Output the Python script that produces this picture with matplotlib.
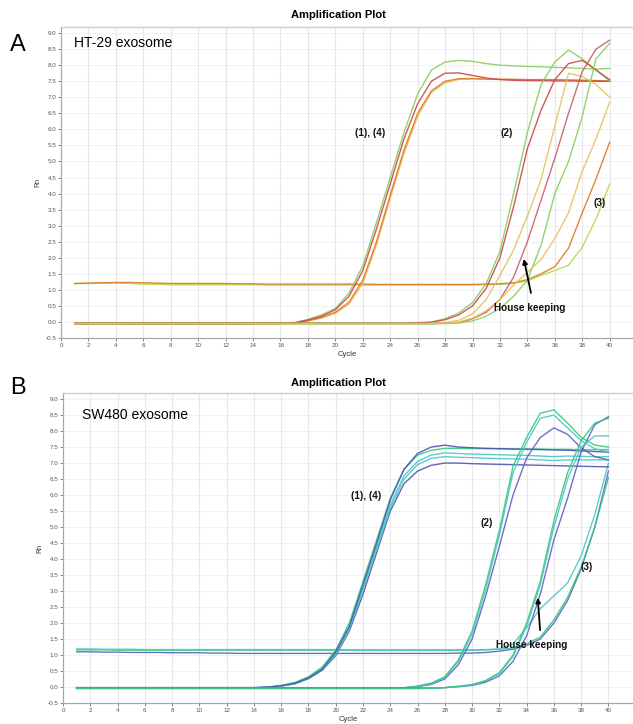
import matplotlib
matplotlib.use("Agg")
import matplotlib.pyplot as plt

plt.rcParams['font.family'] = ['Liberation Sans', 'DejaVu Sans']

cycles = list(range(1, 41))

# ---------------- panel A: HT-29 exosome (Rn per cycle 1..40) ----------------
a_early_green = [-0.05, -0.05, -0.04, -0.04, -0.05, -0.05, -0.05, -0.05, -0.05, -0.05,
                 -0.05, -0.05, -0.05, -0.04, -0.04, -0.03, -0.02, 0.08, 0.22, 0.42,
                 0.90, 1.75, 3.10, 4.50, 5.90, 7.10, 7.85, 8.10, 8.15, 8.12,
                 8.05, 8.00, 7.98, 7.96, 7.95, 7.93, 7.92, 7.90, 7.88, 7.90]
a_early_red = [-0.06, -0.06, -0.05, -0.05, -0.06, -0.06, -0.06, -0.06, -0.06, -0.06,
               -0.06, -0.06, -0.06, -0.05, -0.05, -0.04, -0.03, 0.06, 0.18, 0.38,
               0.80, 1.60, 2.90, 4.30, 5.70, 6.80, 7.50, 7.75, 7.76, 7.68,
               7.60, 7.55, 7.53, 7.52, 7.52, 7.51, 7.51, 7.50, 7.50, 7.50]
a_early_orange = [-0.04, -0.04, -0.04, -0.04, -0.04, -0.04, -0.04, -0.04, -0.04, -0.04,
                  -0.04, -0.04, -0.04, -0.04, -0.04, -0.04, -0.04, 0.04, 0.14, 0.30,
                  0.62, 1.30, 2.50, 3.95, 5.35, 6.50, 7.20, 7.50, 7.58, 7.58,
                  7.57, 7.56, 7.56, 7.55, 7.55, 7.55, 7.54, 7.53, 7.52, 7.50]
a_early_yellow = [-0.07, -0.07, -0.07, -0.07, -0.07, -0.07, -0.07, -0.07, -0.07, -0.07,
                  -0.07, -0.07, -0.07, -0.06, -0.06, -0.06, -0.05, 0.03, 0.12, 0.27,
                  0.56, 1.20, 2.40, 3.85, 5.25, 6.40, 7.15, 7.45, 7.56, 7.57,
                  7.56, 7.56, 7.55, 7.55, 7.55, 7.55, 7.54, 7.53, 7.52, 7.50]
a_p2_green = [-0.03, -0.03, -0.03, -0.03, -0.03, -0.03, -0.03, -0.03, -0.03, -0.03,
              -0.03, -0.03, -0.03, -0.03, -0.03, -0.03, -0.03, -0.03, -0.03, -0.03,
              -0.03, -0.03, -0.03, -0.03, -0.03, -0.02, 0.00, 0.10, 0.28, 0.60,
              1.20, 2.20, 4.00, 5.90, 7.40, 8.10, 8.47, 8.20, 7.85, 7.50]
a_p2_red = [-0.04, -0.04, -0.04, -0.04, -0.04, -0.04, -0.04, -0.04, -0.04, -0.04,
            -0.04, -0.04, -0.04, -0.04, -0.04, -0.04, -0.04, -0.04, -0.04, -0.04,
            -0.04, -0.04, -0.04, -0.04, -0.04, -0.03, -0.01, 0.07, 0.22, 0.50,
            1.05, 2.00, 3.60, 5.40, 6.60, 7.55, 8.05, 8.15, 7.85, 7.55]
a_hk_yellow = [-0.05, -0.05, -0.05, -0.05, -0.05, -0.05, -0.05, -0.05, -0.05, -0.05,
               -0.05, -0.05, -0.05, -0.05, -0.05, -0.05, -0.05, -0.05, -0.05, -0.05,
               -0.05, -0.05, -0.05, -0.05, -0.05, -0.05, -0.04, -0.02, 0.05, 0.25,
               0.70, 1.45, 2.25, 3.30, 4.45, 6.10, 7.75, 7.65, 7.40, 7.00]
a_hk_red = [-0.05, -0.05, -0.05, -0.05, -0.05, -0.05, -0.05, -0.05, -0.05, -0.05,
            -0.05, -0.05, -0.05, -0.05, -0.05, -0.05, -0.05, -0.05, -0.05, -0.05,
            -0.05, -0.05, -0.05, -0.05, -0.05, -0.05, -0.05, -0.04, -0.02, 0.10,
            0.30, 0.70, 1.40, 2.50, 3.80, 5.10, 6.50, 7.80, 8.50, 8.78]
a_hk_green = [-0.06, -0.06, -0.06, -0.06, -0.06, -0.06, -0.06, -0.06, -0.06, -0.06,
              -0.06, -0.06, -0.06, -0.06, -0.06, -0.06, -0.06, -0.06, -0.06, -0.06,
              -0.06, -0.06, -0.06, -0.06, -0.06, -0.06, -0.06, -0.05, -0.03, 0.03,
              0.18, 0.42, 0.80, 1.30, 2.40, 4.00, 5.00, 6.40, 8.20, 8.68]
a_p3_yellow = [-0.05, -0.05, -0.05, -0.05, -0.05, -0.05, -0.05, -0.05, -0.05, -0.05,
               -0.05, -0.05, -0.05, -0.05, -0.05, -0.05, -0.05, -0.05, -0.05, -0.05,
               -0.05, -0.05, -0.05, -0.05, -0.05, -0.05, -0.05, -0.04, 0.00, 0.12,
               0.35, 0.70, 1.15, 1.55, 1.95, 2.60, 3.40, 4.70, 5.70, 6.85]
a_p3_red = [1.20, 1.21, 1.22, 1.23, 1.23, 1.22, 1.21, 1.20, 1.20, 1.20,
            1.20, 1.20, 1.19, 1.19, 1.18, 1.18, 1.18, 1.18, 1.18, 1.18,
            1.18, 1.18, 1.17, 1.17, 1.17, 1.17, 1.17, 1.17, 1.17, 1.17,
            1.18, 1.19, 1.22, 1.32, 1.50, 1.72, 2.30, 3.40, 4.45, 5.60]
a_p3_green = [1.19, 1.20, 1.21, 1.21, 1.20, 1.18, 1.17, 1.16, 1.16, 1.16,
              1.16, 1.16, 1.16, 1.16, 1.15, 1.15, 1.15, 1.15, 1.15, 1.15,
              1.15, 1.15, 1.15, 1.15, 1.15, 1.15, 1.15, 1.15, 1.15, 1.15,
              1.16, 1.17, 1.20, 1.28, 1.45, 1.60, 1.77, 2.33, 3.20, 4.30]

# ---------------- panel B: SW480 exosome ----------------
b_early_blue = [-0.02, -0.02, -0.02, -0.02, -0.02, -0.02, -0.02, -0.02, -0.02, -0.02,
                -0.02, -0.02, -0.02, -0.02, 0.00, 0.04, 0.12, 0.28, 0.55, 1.10,
                1.90, 3.20, 4.50, 5.85, 6.80, 7.30, 7.50, 7.56, 7.50, 7.48,
                7.46, 7.45, 7.44, 7.43, 7.42, 7.41, 7.40, 7.38, 7.36, 7.34]
b_early_green = [-0.04, -0.04, -0.04, -0.04, -0.04, -0.04, -0.04, -0.04, -0.04, -0.04,
                 -0.04, -0.04, -0.04, -0.03, -0.01, 0.05, 0.14, 0.32, 0.62, 1.15,
                 2.00, 3.30, 4.60, 5.90, 6.80, 7.25, 7.40, 7.46, 7.46, 7.45,
                 7.45, 7.45, 7.44, 7.44, 7.44, 7.43, 7.43, 7.42, 7.42, 7.42]
b_early_teal = [-0.03, -0.03, -0.03, -0.03, -0.03, -0.03, -0.03, -0.03, -0.03, -0.03,
                -0.03, -0.03, -0.03, -0.03, -0.01, 0.04, 0.12, 0.30, 0.58, 1.08,
                1.85, 3.10, 4.40, 5.70, 6.60, 7.05, 7.25, 7.32, 7.30, 7.28,
                7.27, 7.26, 7.25, 7.24, 7.22, 7.20, 7.22, 7.21, 7.20, 7.20]
b_early_teal2 = [-0.03, -0.03, -0.03, -0.03, -0.03, -0.03, -0.03, -0.03, -0.03, -0.03,
                 -0.03, -0.03, -0.03, -0.03, -0.02, 0.03, 0.10, 0.27, 0.54, 1.02,
                 1.80, 3.05, 4.30, 5.60, 6.50, 6.95, 7.15, 7.20, 7.18, 7.17,
                 7.15, 7.14, 7.13, 7.12, 7.10, 7.08, 7.10, 7.10, 7.10, 7.10]
b_early_blue2 = [-0.02, -0.02, -0.02, -0.02, -0.02, -0.02, -0.02, -0.02, -0.02, -0.02,
                 -0.02, -0.02, -0.02, -0.02, -0.01, 0.03, 0.10, 0.26, 0.52, 0.98,
                 1.75, 2.90, 4.20, 5.50, 6.35, 6.75, 6.93, 7.00, 7.00, 6.98,
                 6.97, 6.96, 6.95, 6.94, 6.93, 6.92, 6.91, 6.90, 6.89, 6.88]
b_p2_green = [-0.04, -0.04, -0.04, -0.04, -0.04, -0.04, -0.04, -0.04, -0.04, -0.04,
              -0.04, -0.04, -0.04, -0.04, -0.04, -0.04, -0.04, -0.04, -0.04, -0.04,
              -0.04, -0.04, -0.04, -0.04, -0.03, 0.03, 0.12, 0.32, 0.85, 1.75,
              3.20, 4.90, 6.90, 7.80, 8.56, 8.66, 8.25, 7.80, 7.56, 7.50]
b_p2_teal = [-0.03, -0.03, -0.03, -0.03, -0.03, -0.03, -0.03, -0.03, -0.03, -0.03,
             -0.03, -0.03, -0.03, -0.03, -0.03, -0.03, -0.03, -0.03, -0.03, -0.03,
             -0.03, -0.03, -0.03, -0.03, -0.03, 0.02, 0.10, 0.30, 0.80, 1.65,
             3.05, 4.75, 6.70, 7.65, 8.40, 8.50, 8.10, 7.70, 7.45, 7.35]
b_p2_blue = [-0.02, -0.02, -0.02, -0.02, -0.02, -0.02, -0.02, -0.02, -0.02, -0.02,
             -0.02, -0.02, -0.02, -0.02, -0.02, -0.02, -0.02, -0.02, -0.02, -0.02,
             -0.02, -0.02, -0.02, -0.02, -0.02, 0.01, 0.08, 0.25, 0.70, 1.50,
             2.85, 4.40, 6.00, 7.16, 7.80, 8.10, 7.90, 7.47, 7.20, 7.10]
b_hk_green = [-0.05, -0.05, -0.05, -0.05, -0.05, -0.05, -0.05, -0.05, -0.05, -0.05,
              -0.05, -0.05, -0.05, -0.05, -0.05, -0.05, -0.05, -0.05, -0.05, -0.05,
              -0.05, -0.05, -0.05, -0.05, -0.05, -0.05, -0.04, -0.02, 0.02, 0.08,
              0.20, 0.45, 1.00, 2.00, 3.30, 5.20, 6.70, 7.70, 8.25, 8.40]
b_hk_teal = [-0.04, -0.04, -0.04, -0.04, -0.04, -0.04, -0.04, -0.04, -0.04, -0.04,
             -0.04, -0.04, -0.04, -0.04, -0.04, -0.04, -0.04, -0.04, -0.04, -0.04,
             -0.04, -0.04, -0.04, -0.04, -0.04, -0.04, -0.04, -0.02, 0.02, 0.07,
             0.19, 0.42, 0.95, 1.90, 3.20, 5.00, 6.50, 7.50, 7.85, 7.85]
b_hk_blue = [-0.03, -0.03, -0.03, -0.03, -0.03, -0.03, -0.03, -0.03, -0.03, -0.03,
             -0.03, -0.03, -0.03, -0.03, -0.03, -0.03, -0.03, -0.03, -0.03, -0.03,
             -0.03, -0.03, -0.03, -0.03, -0.03, -0.03, -0.03, -0.02, 0.01, 0.05,
             0.15, 0.35, 0.80, 1.60, 2.90, 4.60, 5.90, 7.35, 8.20, 8.45]
b_p3_teal = [1.19, 1.19, 1.18, 1.18, 1.18, 1.17, 1.17, 1.17, 1.17, 1.17,
             1.17, 1.17, 1.17, 1.17, 1.17, 1.17, 1.17, 1.17, 1.17, 1.17,
             1.16, 1.16, 1.16, 1.16, 1.16, 1.16, 1.16, 1.16, 1.16, 1.16,
             1.17, 1.19, 1.35, 1.85, 2.45, 2.85, 3.25, 4.10, 5.40, 7.00]
b_p3_green = [1.16, 1.16, 1.16, 1.15, 1.15, 1.15, 1.15, 1.15, 1.15, 1.15,
              1.15, 1.15, 1.15, 1.15, 1.15, 1.15, 1.15, 1.15, 1.15, 1.15,
              1.15, 1.15, 1.15, 1.15, 1.15, 1.15, 1.15, 1.15, 1.15, 1.15,
              1.16, 1.18, 1.22, 1.35, 1.56, 2.10, 2.80, 3.75, 5.00, 6.55]
b_p3_blue = [1.10, 1.10, 1.09, 1.09, 1.08, 1.08, 1.08, 1.07, 1.07, 1.07,
             1.06, 1.06, 1.05, 1.05, 1.05, 1.05, 1.05, 1.05, 1.05, 1.05,
             1.05, 1.05, 1.05, 1.05, 1.05, 1.05, 1.05, 1.05, 1.06, 1.06,
             1.08, 1.12, 1.18, 1.30, 1.50, 2.00, 2.70, 3.70, 5.00, 6.75]

GREEN_A = '#86cf5f'
RED_A = '#c9474a'
ORANGE_A = '#dd7a22'
YELLOW_A = '#e6c25a'
PINK_A = '#cc5c68'

GREEN_B = '#38c77f'
TEAL_B = '#4cc6c8'
BLUE_B = '#5a63c2'
DBLUE_B = '#4a54b2'

curves_a = [
    (a_p3_green, '#b5d94a'), (a_p3_red, ORANGE_A),
    (a_early_yellow, YELLOW_A), (a_early_orange, ORANGE_A),
    (a_early_green, GREEN_A), (a_early_red, RED_A),
    (a_p2_green, GREEN_A), (a_p2_red, RED_A),
    (a_hk_yellow, YELLOW_A), (a_hk_red, PINK_A), (a_hk_green, GREEN_A),
    (a_p3_yellow, YELLOW_A),
]
curves_b = [
    (b_p3_blue, BLUE_B), (b_p3_green, GREEN_B), (b_p3_teal, TEAL_B),
    (b_early_blue2, DBLUE_B), (b_early_teal2, TEAL_B), (b_early_teal, TEAL_B),
    (b_early_green, GREEN_B), (b_early_blue, DBLUE_B),
    (b_p2_blue, BLUE_B), (b_p2_teal, TEAL_B), (b_p2_green, GREEN_B),
    (b_hk_blue, BLUE_B), (b_hk_teal, TEAL_B), (b_hk_green, GREEN_B),
]

W, H = 633, 724
fig = plt.figure(figsize=(W / 100, H / 100), dpi=100)


def style_axes(ax, xmax):
    ax.set_xlim(0, xmax)
    ax.set_ylim(-0.5, 9.19)
    ax.set_xticks(range(0, 41, 2))
    ax.set_yticks([i * 0.5 - 0.5 for i in range(20)])
    ax.set_yticklabels(['%.1f' % (i * 0.5 - 0.5) for i in range(20)])
    ax.tick_params(labelsize=4.5, colors='#555555', length=2, width=0.5, pad=1.5)
    ax.grid(axis='x', color='#e8e8e8', lw=0.8, ls='-')
    ax.grid(axis='y', color='#d6d6d6', lw=0.6, ls=':')
    ax.set_axisbelow(True)
    for s in ['left', 'bottom']:
        ax.spines[s].set_color('#a8a8a8')
        ax.spines[s].set_linewidth(0.9)
    ax.spines['top'].set_color('#cfcfcf')
    ax.spines['top'].set_linewidth(1.0)
    ax.spines['right'].set_visible(False)
    ax.set_ylabel('Rn', fontsize=5, color='#333333', labelpad=3)
    ax.set_xlabel('Cycle', fontsize=5.5, color='#333333', labelpad=2)


# panel A
axA = fig.add_axes([61 / W, 1 - 338 / H, (W - 61) / W, (338 - 27) / H])
style_axes(axA, 41.7)
for vals, col in curves_a:
    axA.plot(cycles, vals, color=col, lw=1.0, alpha=0.9)

# panel B
axB = fig.add_axes([63 / W, 1 - 703 / H, (W - 63) / W, (703 - 393) / H])
style_axes(axB, 41.8)
for vals, col in curves_b:
    axB.plot(cycles, vals, color=col, lw=1.0, alpha=0.9)

# titles and panel letters
fig.text(338 / W, 1 - 15 / H, 'Amplification Plot', ha='center', va='center',
         fontsize=8, fontweight='bold')
fig.text(338 / W, 1 - 383 / H, 'Amplification Plot', ha='center', va='center',
         fontsize=8, fontweight='bold')
fig.text(10 / W, 1 - 45 / H, 'A', ha='left', va='center', fontsize=17)
fig.text(10 / W, 1 - 388 / H, 'B', ha='left', va='center', fontsize=17)
fig.text(74 / W, 1 - 43 / H, 'HT-29 exosome', ha='left', va='center', fontsize=10)
fig.text(82 / W, 1 - 415 / H, 'SW480 exosome', ha='left', va='center', fontsize=10)

lab = dict(fontsize=7.2, fontweight='bold', ha='center', va='center',
           color='#111111')

axA.text(22.5, 5.9, '(1), (4)', **lab)
axA.text(32.5, 5.9, '(2)', **lab)
axA.text(39.3, 3.7, '(3)', **lab)
axA.text(34.2, 0.43, 'House keeping', **lab)
axA.annotate('', xy=(33.7, 2.05), xytext=(34.3, 0.82),
             arrowprops=dict(arrowstyle='-|>', color='black', lw=1.3,
                             mutation_scale=7))

axB.text(22.2, 5.97, '(1), (4)', **lab)
axB.text(31.1, 5.13, '(2)', **lab)
axB.text(38.4, 3.75, '(3)', **lab)
axB.text(34.4, 1.31, 'House keeping', **lab)
axB.annotate('', xy=(34.8, 2.88), xytext=(35.0, 1.69),
             arrowprops=dict(arrowstyle='-|>', color='black', lw=1.3,
                             mutation_scale=7))

fig.savefig('out.png', dpi=100)
